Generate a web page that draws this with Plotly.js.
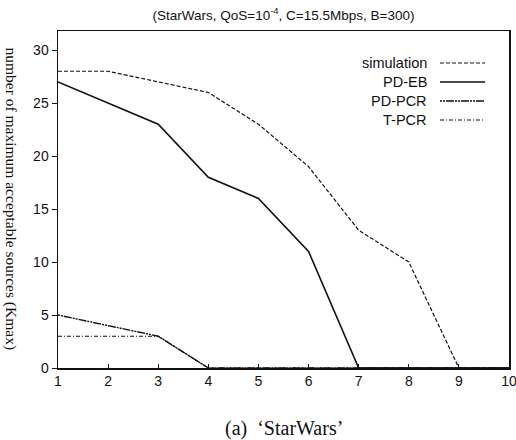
<!DOCTYPE html>
<html>
<head>
<meta charset="utf-8">
<script src="https://cdn.plot.ly/plotly-3.0.1.min.js"></script>
<style>html,body{margin:0;padding:0;background:#fff;}#chart{width:516px;height:440px;}</style>
</head>
<body>
<div id="chart"></div>
<script>
// Data
const xs = [1, 2, 3, 4, 5, 6, 7, 8, 9, 10];
const simulation = [28, 28, 27, 26, 23, 19, 13, 10, 0, 0];
const pdEB = [27, 25, 23, 18, 16, 11, 0, 0, 0, 0];
const pdPCR = [5, 4, 3, 0, 0, 0, 0, 0, 0, 0];
const tPCR = [3, 3, 3, 0, 0, 0, 0, 0, 0, 0];
const seriesNames = ["simulation", "PD-EB", "PD-PCR", "T-PCR"];
const yTicks = [0, 5, 10, 15, 20, 25, 30];

const dashes = ["4px,2px", "solid", "2px,1px,2px,1px,8px,1px", "4px,2px,1px,2px"];
const widths = [1.2, 1.6, 1.4, 1.1];
const seriesData = [simulation, pdEB, pdPCR, tPCR];

const traces = seriesData.map((d, i) => ({
  x: xs, y: d, type: 'scatter', mode: 'lines', name: seriesNames[i],
  line: {color: '#111', width: widths[i], dash: dashes[i]},
  showlegend: false, cliponaxis: false
}));

const sans = 'Liberation Sans, Arial, sans-serif';
const serif = 'Liberation Serif, Times New Roman, serif';
const annotations = [];
const shapes = [];
seriesNames.forEach((n, i) => {
  const yy = 0.905 - i * 0.0564;
  annotations.push({xref: 'paper', yref: 'paper', x: 0.822, y: yy, xanchor: 'right', yanchor: 'middle',
    text: n, showarrow: false, font: {family: sans, size: 14.5, color: '#111'}});
  shapes.push({type: 'line', xref: 'paper', yref: 'paper', x0: 0.847, x1: 0.947, y0: yy, y1: yy,
    line: {color: '#111', width: widths[i], dash: dashes[i]}});
});
annotations.push({xref: 'paper', yref: 'paper', x: -0.102, y: 0.5, textangle: 90, xanchor: 'center', yanchor: 'middle',
  text: 'number of maximum acceptable sources (Kmax)', showarrow: false,
  font: {family: serif, size: 15.5, color: '#111'}});
annotations.push({xref: 'paper', yref: 'paper', x: 0.5, y: -0.18, xanchor: 'center', yanchor: 'middle',
  text: '(a)  \u2018StarWars\u2019', showarrow: false,
  font: {family: serif, size: 20, color: '#111'}});

const layout = {
  width: 516, height: 440,
  margin: {l: 58, r: 7, t: 31, b: 72},
  paper_bgcolor: '#fff', plot_bgcolor: '#fff',
  title: {text: '(StarWars, QoS=10<sup>-4</sup>, C=15.5Mbps, B=300)', x: 0.5, xref: 'paper', y: 0.965, yanchor: 'middle',
    font: {family: sans, size: 13.5, color: '#111'}},
  xaxis: {range: [1, 10], tickvals: xs, ticks: 'inside', ticklen: 4, tickcolor: '#111',
    ticklabeloverflow: 'allow',
    showgrid: false, zeroline: false, showline: true, linecolor: '#111', linewidth: 1.5, mirror: true,
    tickfont: {family: sans, size: 14, color: '#111'}},
  yaxis: {range: [0, 31.8], tickvals: yTicks, ticks: 'outside', ticklen: 5, tickcolor: '#111',
    showgrid: false, zeroline: false, showline: true, linecolor: '#111', linewidth: 1.5, mirror: true,
    tickfont: {family: sans, size: 14, color: '#111'}},
  annotations: annotations, shapes: shapes, showlegend: false
};
Plotly.newPlot('chart', traces, layout, {displayModeBar: false, staticPlot: true});
</script>
</body>
</html>
